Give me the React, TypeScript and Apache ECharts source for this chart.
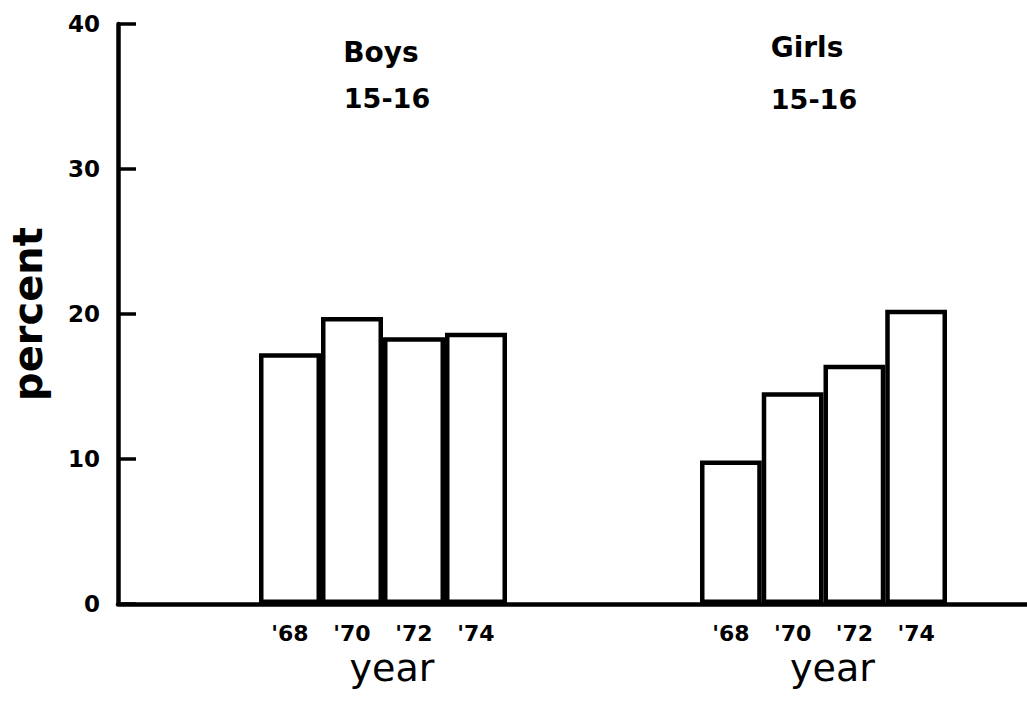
import React, { useEffect, useRef } from "react";
import * as echarts from "echarts";

const years = ["'68", "'70", "'72", "'74"];
const boys = [17.3, 19.8, 18.4, 18.7];
const girls = [9.9, 14.6, 16.5, 20.3];
const yTicks = { min: 0, max: 40, interval: 10 };
const FONT = "DejaVu Sans";

export default function App() {
  const ref = useRef<HTMLDivElement>(null);
  useEffect(() => {
    if (!ref.current) return;
    const chart = echarts.init(ref.current, null, { renderer: "svg" });
    const hiddenY = (gridIndex: number) => ({
      type: "value",
      gridIndex,
      min: yTicks.min,
      max: yTicks.max,
      show: false,
    });
    const groupX = (gridIndex: number) => ({
      type: "category",
      gridIndex,
      data: years,
      axisLine: { show: false },
      axisTick: { show: false },
      axisLabel: { fontSize: 22, fontFamily: FONT, fontWeight: "bold", color: "#000", margin: 18 },
      name: "year",
      nameLocation: "middle",
      nameGap: 38,
      nameTextStyle: { fontSize: 38, fontFamily: FONT, color: "#000", padding: [0, 0, 0, 18] },
    });
    const barSeries = (idx: number, data: number[]) => ({
      type: "bar",
      xAxisIndex: idx,
      yAxisIndex: idx,
      data,
      barCategoryGap: "0%",
      itemStyle: { color: "#fff", borderColor: "#000", borderWidth: 4.5 },
      silent: true,
    });
    chart.setOption({
      animation: false,
      backgroundColor: "#fff",
      grid: [
        { left: 117, right: 0, top: 24, bottom: 98 },
        { left: 259, width: 248, top: 24, bottom: 98 },
        { left: 700, width: 247, top: 24, bottom: 98 },
      ],
      xAxis: [
        {
          type: "value",
          gridIndex: 0,
          min: 0,
          max: 1,
          axisLine: { show: true, lineStyle: { color: "#000", width: 4.5 } },
          axisTick: { show: false },
          axisLabel: { show: false },
          splitLine: { show: false },
          z: 5,
        },
        groupX(1),
        groupX(2),
      ],
      yAxis: [
        {
          type: "value",
          gridIndex: 0,
          min: yTicks.min,
          max: yTicks.max,
          interval: yTicks.interval,
          axisLine: { show: true, lineStyle: { color: "#000", width: 4.5 } },
          axisTick: { show: true, inside: true, length: 18, lineStyle: { color: "#000", width: 3.5 } },
          axisLabel: { fontSize: 23, fontFamily: FONT, fontWeight: "bold", color: "#000", margin: 18 },
          splitLine: { show: false },
          name: "percent",
          nameLocation: "middle",
          nameGap: 70,
          nameRotate: 90,
          nameTextStyle: { fontSize: 40, fontFamily: FONT, fontWeight: "bold", color: "#000" },
        },
        hiddenY(1),
        hiddenY(2),
      ],
      series: [barSeries(1, boys), barSeries(2, girls)],
      graphic: [
        { type: "text", x: 381, y: 52, style: { text: "Boys", fontSize: 28, fontWeight: "bold", fontFamily: FONT, fill: "#000", align: "center", verticalAlign: "middle" } },
        { type: "text", x: 387, y: 98, style: { text: "15-16", fontSize: 27, fontWeight: "bold", fontFamily: FONT, fill: "#000", align: "center", verticalAlign: "middle" } },
        { type: "text", x: 807, y: 47, style: { text: "Girls", fontSize: 28, fontWeight: "bold", fontFamily: FONT, fill: "#000", align: "center", verticalAlign: "middle" } },
        { type: "text", x: 814, y: 99, style: { text: "15-16", fontSize: 27, fontWeight: "bold", fontFamily: FONT, fill: "#000", align: "center", verticalAlign: "middle" } },
      ],
    });
    return () => chart.dispose();
  }, []);
  return <div ref={ref} style={{ position: "absolute", left: 0, top: 0, width: 1027, height: 702 }} />;
}
